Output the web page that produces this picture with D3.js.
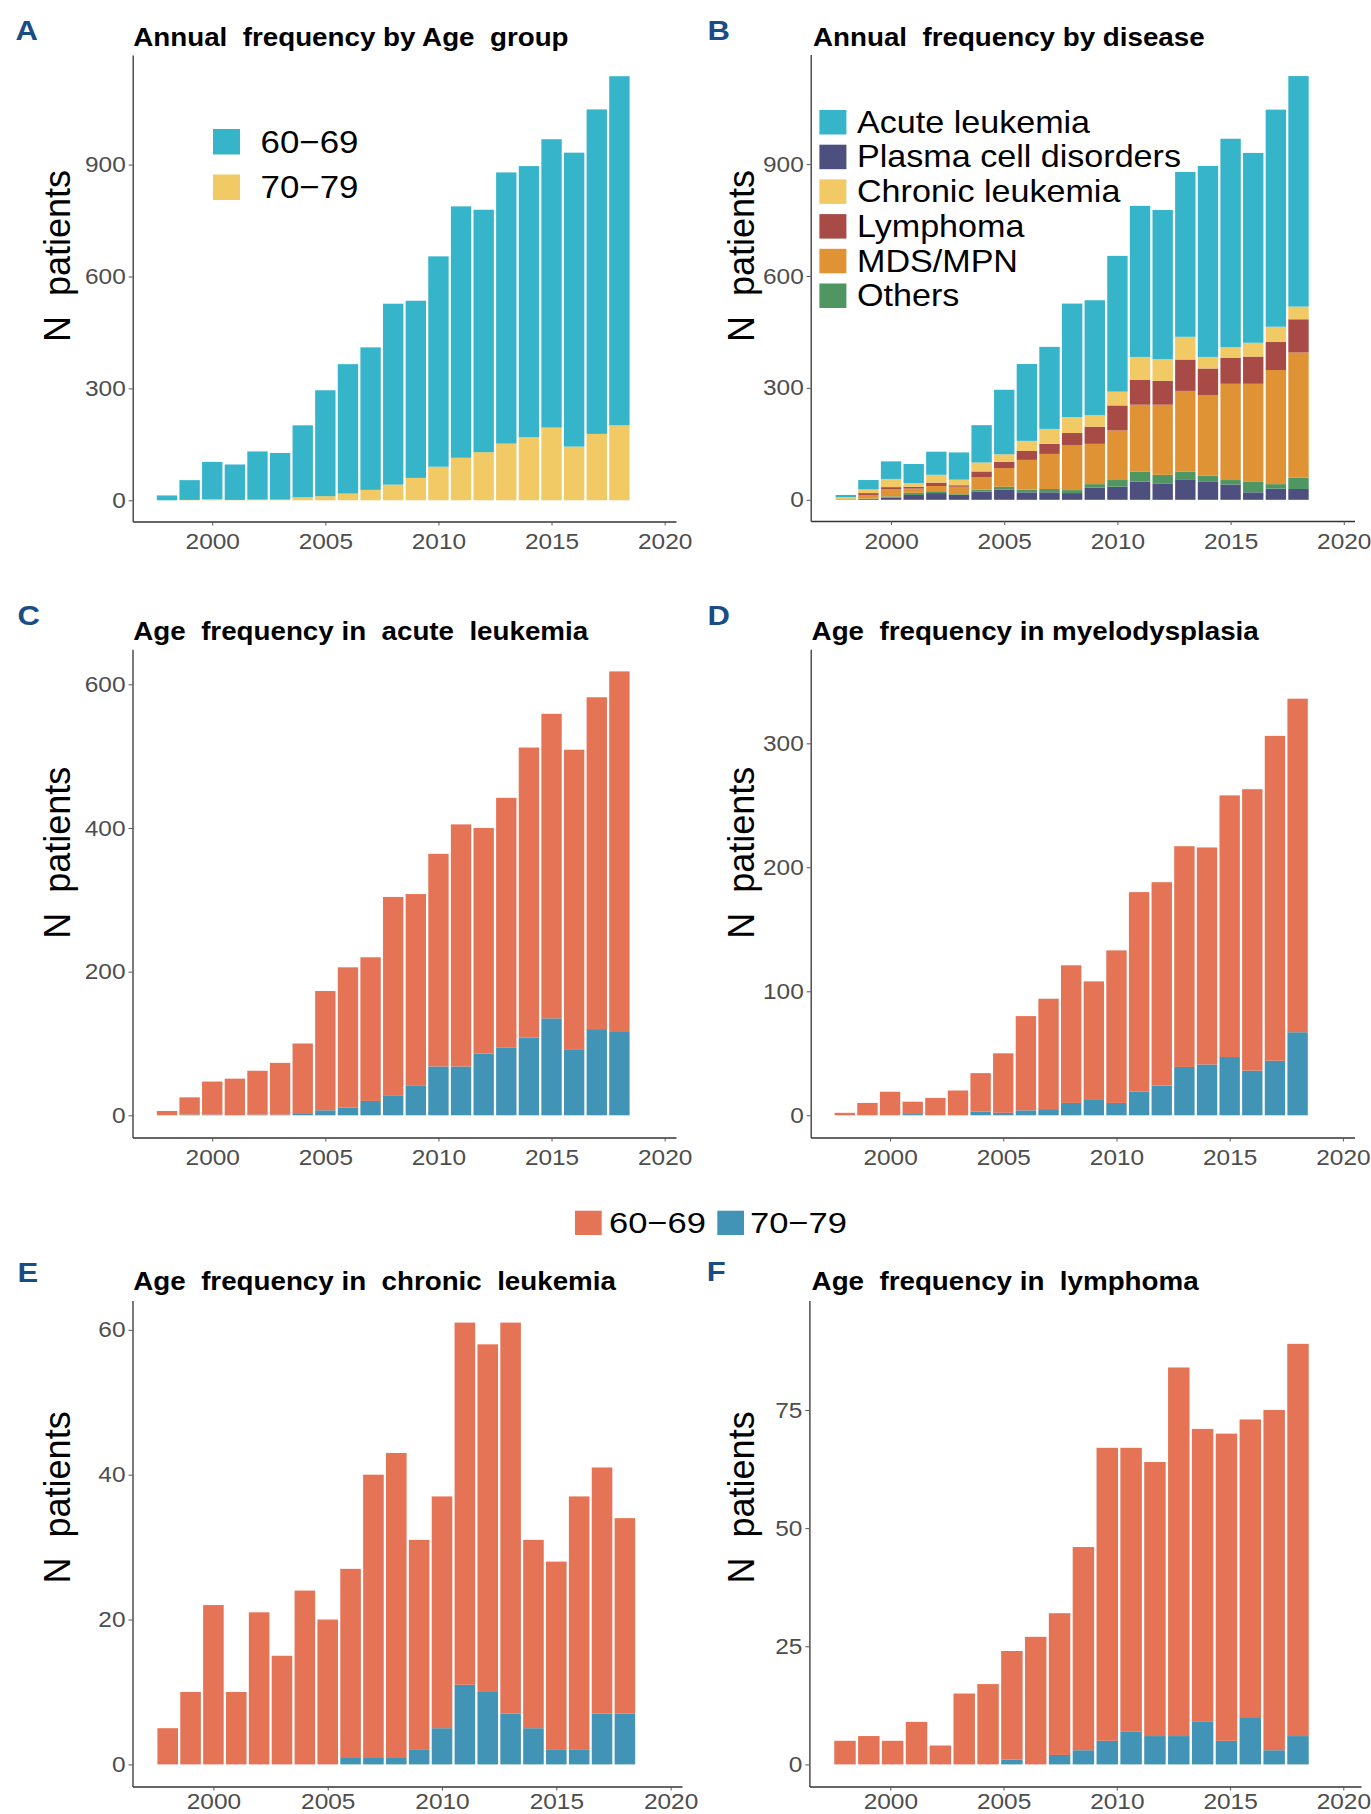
<!DOCTYPE html>
<html>
<head>
<meta charset="utf-8">
<script src="https://cdn.jsdelivr.net/npm/d3@7"></script>
<style>
  body { margin: 0; background: #fff; }
  svg { display: block; }
  text { font-family: "Liberation Sans", Arial, Helvetica, sans-serif; }
</style>
</head>
<body>
<div class="chart"></div>
<script>
// years shown in every panel
const years = [1998, 1999, 2000, 2001, 2002, 2003, 2004, 2005, 2006, 2007, 2008,
               2009, 2010, 2011, 2012, 2013, 2014, 2015, 2016, 2017, 2018];
// lymphoma panel has no 1998 bar
const lymphYears = [1999, 2000, 2001, 2002, 2003, 2004, 2005, 2006, 2007, 2008,
                    2009, 2010, 2011, 2012, 2013, 2014, 2015, 2016, 2017, 2018];

// A - annual frequency by age group
const allAge6069 = [13, 53, 100, 95, 129, 125, 193, 284, 347, 382, 485, 475, 564, 674, 650, 727, 727, 773, 788, 870, 936];
const allAge7079 = [0, 1, 3, 1, 2, 2, 8, 11, 18, 28, 42, 60, 90, 114, 129, 152, 169, 195, 144, 178, 201];

// B - annual frequency by disease
const diseaseNames = ["Acute leukemia", "Plasma cell disorders", "Chronic leukemia", "Lymphoma", "MDS/MPN", "Others"];
const acuteLeukemia = [6, 25, 47, 51, 62, 73, 100, 173, 206, 220, 304, 308, 364, 405, 400, 442, 512, 559, 509, 582, 618];
const plasmaCell = [0, 2, 6, 13, 18, 13, 22, 27, 20, 20, 18, 33, 35, 49, 44, 55, 48, 41, 20, 30, 29];
const chronicLeukemia = [5, 10, 22, 10, 21, 15, 24, 20, 27, 40, 43, 31, 37, 61, 58, 61, 31, 28, 37, 41, 34];
const lymphoma = [0, 5, 6, 5, 9, 4, 15, 17, 24, 27, 32, 46, 67, 67, 64, 84, 71, 70, 73, 75, 89];
const mdsMpn = [2, 10, 19, 11, 14, 20, 34, 50, 80, 94, 121, 108, 133, 180, 188, 217, 216, 258, 263, 306, 336];
const others = [0, 1, 3, 6, 5, 2, 5, 8, 7, 9, 8, 9, 18, 26, 23, 20, 17, 12, 28, 12, 30];

// C - acute leukemia by age
const acute6069 = [6, 24, 46, 51, 61, 72, 97, 166, 195, 200, 277, 267, 296, 337, 314, 348, 404, 424, 417, 462, 502];
const acute7079 = [0, 1, 1, 0, 1, 1, 3, 7, 11, 20, 27, 41, 68, 68, 86, 94, 108, 135, 92, 120, 116];

// D - myelodysplasia by age
const mds6069 = [2, 10, 19, 10, 14, 20, 31, 48, 76, 89, 111, 95, 123, 161, 164, 178, 175, 211, 227, 262, 269];
const mds7079 = [0, 0, 0, 1, 0, 0, 3, 2, 4, 5, 10, 13, 10, 19, 24, 39, 41, 47, 36, 44, 67];

// E - chronic leukemia by age
const chronic6069 = [5, 10, 22, 10, 21, 15, 24, 20, 26, 39, 42, 29, 32, 50, 48, 54, 26, 26, 35, 34, 27];
const chronic7079 = [0, 0, 0, 0, 0, 0, 0, 0, 1, 1, 1, 2, 5, 11, 10, 7, 5, 2, 2, 7, 7];

// F - lymphoma by age (1999-2018)
const lymph6069 = [5, 6, 5, 9, 4, 15, 17, 23, 27, 30, 43, 62, 60, 58, 78, 62, 65, 63, 72, 83];
const lymph7079 = [0, 0, 0, 0, 0, 0, 0, 1, 0, 2, 3, 5, 7, 6, 6, 9, 5, 10, 3, 6];

const xTicks = [2000, 2005, 2010, 2015, 2020];

const cyan = "#36b4c9", yellow = "#f1c965";
const coral = "#e57355", steel = "#4194b5";
const diseaseColors = {
  "Acute leukemia": cyan,
  "Plasma cell disorders": "#4d4f7f",
  "Chronic leukemia": yellow,
  "Lymphoma": "#a84b47",
  "MDS/MPN": "#df9334",
  "Others": "#4f9663"
};

function rowsOf(yrs, series) {
  return yrs.map((yr, i) => {
    const r = { year: yr };
    Object.keys(series).forEach(k => r[k] = series[k][i]);
    return r;
  });
}

const svg = d3.select(".chart")
  .append("svg")
  .attr("width", 1371)
  .attr("height", 1814);

function stretched(parent, x, y, str, size, sx) {
  return parent.append("text")
    .attr("transform", `translate(${x},${y}) scale(${sx},1)`)
    .attr("font-size", size)
    .style("white-space", "pre")
    .text(str);
}

function styleAxis(ax) {
  ax.attr("font-family", null).attr("font-size", 22);
  ax.select(".domain").attr("stroke", "#333").attr("stroke-width", 1.3);
  ax.selectAll(".tick line").attr("stroke", "#555");
  ax.selectAll(".tick text")
    .attr("fill", "#4d4d4d")
    .each(function() {
      const t = d3.select(this);
      const xx = +t.attr("x") || 0;
      t.attr("x", xx / 1.11).attr("transform", "scale(1.11,1)");
    });
}

function drawPanel(p) {
  const g = svg.append("g");

  const x = d3.scaleLinear().domain([1998, 2018]).range(p.xr);
  const y = d3.scaleLinear()
    .domain([-0.05 * p.lim, 1.05 * p.lim])
    .range([p.bottom, p.top]);

  // bar centres; the lymphoma panel spreads its 20 bars over the same span
  const xBar = p.barDomain
    ? d3.scaleLinear().domain(p.barDomain).range([x(1998), x(2018)])
    : x;
  const step = Math.abs(xBar(p.rows[1].year) - xBar(p.rows[0].year));
  const bw = 0.9 * step;

  const series = d3.stack().keys(p.keys)(p.rows);

  g.selectAll(".layer")
    .data(series)
    .join("g")
    .attr("class", "layer")
    .attr("fill", d => p.colors[d.key])
    .selectAll("rect")
    .data(d => d)
    .join("rect")
    .attr("x", d => xBar(d.data.year) - bw / 2)
    .attr("width", bw)
    .attr("y", d => y(d[1]))
    .attr("height", d => y(d[0]) - y(d[1]));

  const xAxisScale = x.copy()
    .domain([x.invert(p.left), x.invert(p.right)])
    .range([p.left, p.right]);

  g.append("g")
    .attr("transform", `translate(0,${p.bottom})`)
    .call(d3.axisBottom(xAxisScale)
      .tickValues(xTicks)
      .tickFormat(d3.format("d"))
      .tickSize(4)
      .tickSizeOuter(0)
      .tickPadding(p.xPad || 8))
    .call(styleAxis);

  g.append("g")
    .attr("transform", `translate(${p.left},0)`)
    .call(d3.axisLeft(y)
      .tickValues(p.ticks)
      .tickSize(4)
      .tickSizeOuter(0)
      .tickPadding(3))
    .call(styleAxis);

  stretched(g, p.titleX, p.titleY, p.title, 25, 1.11)
    .attr("font-weight", "bold")
    .attr("fill", "#000");

  stretched(g, p.letterX, p.letterY, p.letter, 27, 1.15)
    .attr("font-weight", "bold")
    .attr("fill", "#1a4c85");

  g.append("text")
    .attr("transform", `translate(${p.ylabX},${p.ylabY}) rotate(-90)`)
    .attr("text-anchor", "middle")
    .attr("font-size", 36)
    .attr("fill", "#000")
    .style("white-space", "pre")
    .text("N  patients");
}

const ageColorsA = { a7079: yellow, a6069: cyan };
const ageColors = { o7079: steel, o6069: coral };

drawPanel({
  letter: "A", letterX: 15.5, letterY: 40,
  title: "Annual  frequency by Age  group", titleX: 133.3, titleY: 46,
  left: 132.7, right: 676, top: 55, bottom: 521.5,
  xr: [167, 619.4], lim: 1137, ticks: [0, 300, 600, 900],
  ylabX: 70, ylabY: 256,
  keys: ["a7079", "a6069"], colors: ageColorsA,
  rows: rowsOf(years, { a7079: allAge7079, a6069: allAge6069 })
});

drawPanel({
  letter: "B", letterX: 707.4, letterY: 40,
  title: "Annual  frequency by disease", titleX: 813, titleY: 45.5,
  left: 810.7, right: 1354.5, top: 54.5, bottom: 521,
  xr: [845.8, 1298.5], lim: 1137, ticks: [0, 300, 600, 900],
  ylabX: 754, ylabY: 256,
  keys: ["Plasma cell disorders", "Others", "MDS/MPN", "Lymphoma", "Chronic leukemia", "Acute leukemia"],
  colors: diseaseColors,
  rows: rowsOf(years, {
    "Acute leukemia": acuteLeukemia,
    "Plasma cell disorders": plasmaCell,
    "Chronic leukemia": chronicLeukemia,
    "Lymphoma": lymphoma,
    "MDS/MPN": mdsMpn,
    "Others": others
  })
});

drawPanel({
  letter: "C", letterX: 17.6, letterY: 625,
  title: "Age  frequency in  acute  leukemia", titleX: 133.3, titleY: 640,
  left: 132.5, right: 676, top: 649.2, bottom: 1137.5,
  xr: [167, 619.4], lim: 618, ticks: [0, 200, 400, 600],
  ylabX: 70, ylabY: 852.7,
  keys: ["o7079", "o6069"], colors: ageColors,
  rows: rowsOf(years, { o7079: acute7079, o6069: acute6069 })
});

drawPanel({
  letter: "D", letterX: 707.4, letterY: 625,
  title: "Age  frequency in myelodysplasia", titleX: 811.6, titleY: 640,
  left: 810.7, right: 1354.5, top: 649.2, bottom: 1137.5,
  xr: [844.8, 1297.6], lim: 358, ticks: [0, 100, 200, 300],
  ylabX: 754, ylabY: 852.7,
  keys: ["o7079", "o6069"], colors: ageColors,
  rows: rowsOf(years, { o7079: mds7079, o6069: mds6069 })
});

drawPanel({
  letter: "E", letterX: 17.6, letterY: 1282,
  title: "Age  frequency in  chronic  leukemia", titleX: 133.3, titleY: 1290,
  left: 132.5, right: 682, top: 1300.5, bottom: 1786.5,
  xr: [167.7, 624.9], lim: 61, ticks: [0, 20, 40, 60],
  ylabX: 70, ylabY: 1497.4, xPad: 3,
  keys: ["o7079", "o6069"], colors: ageColors,
  rows: rowsOf(years, { o7079: chronic7079, o6069: chronic6069 })
});

drawPanel({
  letter: "F", letterX: 706.7, letterY: 1281,
  title: "Age  frequency in  lymphoma", titleX: 811.6, titleY: 1290,
  left: 809.4, right: 1361, top: 1300.5, bottom: 1786.5,
  xr: [845, 1298], lim: 93.5, ticks: [0, 25, 50, 75],
  ylabX: 754, ylabY: 1497.4, xPad: 3,
  barDomain: [1999, 2018],
  keys: ["o7079", "o6069"], colors: ageColors,
  rows: rowsOf(lymphYears, { o7079: lymph7079, o6069: lymph6069 })
});

// legend, panel A
const legA = svg.append("g");
[["60−69", cyan], ["70−79", yellow]].forEach(([lab, col], i) => {
  const top = 129 + i * 45.5;
  legA.append("rect")
    .attr("x", 213).attr("y", top)
    .attr("width", 27).attr("height", 25.5)
    .attr("fill", col);
  stretched(legA, 260.5, top + 12.75, lab, 32, 1.09)
    .attr("dominant-baseline", "central");
});

// legend, panel B
const legB = svg.append("g");
diseaseNames.forEach((name, i) => {
  const top = 110 + i * 34.7;
  legB.append("rect")
    .attr("x", 819.4).attr("y", top)
    .attr("width", 27).attr("height", 24.5)
    .attr("fill", diseaseColors[name]);
  stretched(legB, 857, top + 12.25, name, 31, 1.1)
    .attr("dominant-baseline", "central");
});

// shared legend for C-F
const legC = svg.append("g");
[["60−69", coral, 575, 609], ["70−79", steel, 717.3, 750]].forEach(([lab, col, sqX, txX]) => {
  legC.append("rect")
    .attr("x", sqX).attr("y", 1210.7)
    .attr("width", 26.7).attr("height", 24.3)
    .attr("fill", col);
  stretched(legC, txX, 1223, lab, 30, 1.15)
    .attr("dominant-baseline", "central");
});
</script>
</body>
</html>
